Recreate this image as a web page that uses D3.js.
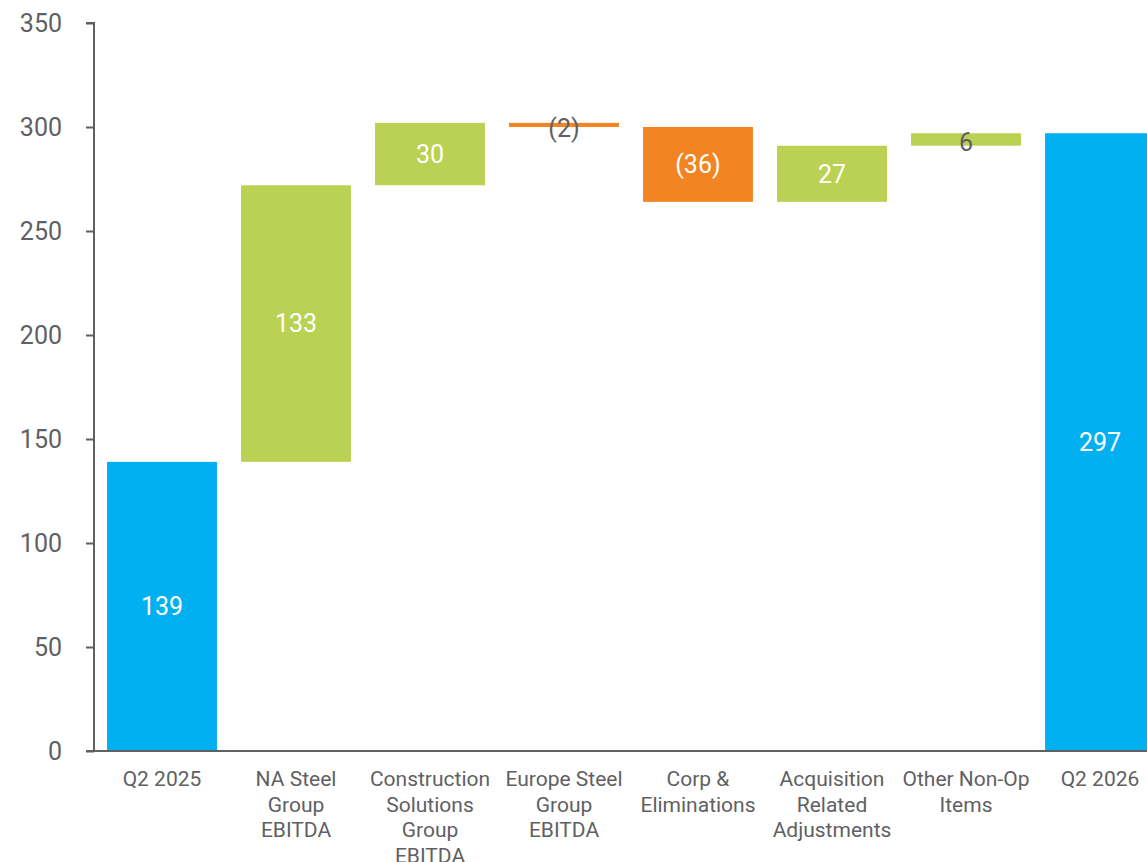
<!DOCTYPE html>
<html>
<head>
<meta charset="utf-8">
<script src="https://cdn.jsdelivr.net/npm/d3@7"></script>
<style>
  html, body { margin: 0; padding: 0; background: #fff; overflow: hidden; }
  svg { display: block; font-family: Roboto, "Open Sans", sans-serif; }
</style>
</head>
<body>
<svg id="chart" width="1147" height="862"></svg>
<script>
// EBITDA bridge: Q2 2025 to Q2 2026
const categories = [
  "Q2 2025",
  "NA Steel\nGroup\nEBITDA",
  "Construction\nSolutions\nGroup\nEBITDA",
  "Europe Steel\nGroup\nEBITDA",
  "Corp &\nEliminations",
  "Acquisition\nRelated\nAdjustments",
  "Other Non-Op\nItems",
  "Q2 2026"
];
// "total" bars start at zero, "delta" bars float on the running total
const kinds = ["total", "delta", "delta", "delta", "delta", "delta", "delta", "total"];
const values = [139, 133, 30, -2, -36, 27, 6, 297];
const yTicks = [0, 50, 100, 150, 200, 250, 300, 350];

const colors = { total: "#00B0F0", up: "#BBD153", down: "#F28522" };
const textGray = "#5f5f64";

const svg = d3.select("#chart");
const margin = { left: 95, top: 23, bottom: 111 };
const height = 862;
const y0 = height - margin.bottom;

const x = d3.scaleBand()
  .domain(categories)
  .range([margin.left, margin.left + 8 * 134])
  .paddingInner(0.18)
  .paddingOuter(0.09);

const y = d3.scaleLinear().domain([0, 350]).range([y0, margin.top]);

// compute floating segments from the running total
let running = 0;
const bars = categories.map((c, i) => {
  const v = values[i];
  let lo, hi, fill;
  if (kinds[i] === "total") {
    lo = 0; hi = v; running = v; fill = colors.total;
  } else {
    const start = running;
    running += v;
    lo = Math.min(start, running); hi = Math.max(start, running);
    fill = v >= 0 ? colors.up : colors.down;
  }
  return { c, v, lo, hi, fill, kind: kinds[i] };
});

// bars
svg.append("g").selectAll("rect").data(bars).join("rect")
  .attr("x", d => x(d.c))
  .attr("width", x.bandwidth())
  .attr("y", d => y(d.hi))
  .attr("height", d => y(d.lo) - y(d.hi))
  .attr("fill", d => d.fill);

// value labels
const fmt = v => v < 0 ? `(${Math.abs(v)})` : `${v}`;
svg.append("g").selectAll("text").data(bars).join("text")
  .attr("x", d => x(d.c) + x.bandwidth() / 2)
  .attr("y", d => (y(d.lo) + y(d.hi)) / 2 + ((y(d.lo) - y(d.hi)) > 30 ? 0 : 3))
  .attr("dy", "0.35em")
  .attr("text-anchor", "middle")
  .attr("font-size", 25)
  .attr("fill", d => (y(d.lo) - y(d.hi)) > 30 ? "#ffffff" : textGray)
  .text(d => fmt(d.v));

// y axis
const yAxis = svg.append("g")
  .attr("transform", `translate(${margin.left - 1},0)`)
  .call(d3.axisLeft(y).tickValues(yTicks).tickSize(8).tickPadding(24));
yAxis.select(".domain").attr("stroke", textGray).attr("stroke-width", 2)
  .attr("d", `M-8,${y(350)}H0V${y(0)}`);
yAxis.selectAll(".tick line").attr("stroke", textGray).attr("stroke-width", 2);
yAxis.selectAll(".tick text").attr("fill", textGray).attr("font-size", 25)
  .attr("font-family", "Roboto, sans-serif");

// x baseline
svg.append("line")
  .attr("x1", margin.left - 9).attr("x2", 1147)
  .attr("y1", y(0)).attr("y2", y(0))
  .attr("stroke", textGray).attr("stroke-width", 2);

// category labels
const catG = svg.append("g").selectAll("text").data(categories).join("text")
  .attr("x", d => x(d) + x.bandwidth() / 2)
  .attr("y", y0 + 35)
  .attr("text-anchor", "middle")
  .attr("font-size", 21)
  .attr("fill", textGray);
catG.each(function(d) {
  const t = d3.select(this);
  d.split("\n").forEach((line, i) => {
    t.append("tspan")
      .attr("x", x(d) + x.bandwidth() / 2)
      .attr("dy", i === 0 ? 0 : 25.5)
      .text(line);
  });
});
</script>
</body>
</html>
